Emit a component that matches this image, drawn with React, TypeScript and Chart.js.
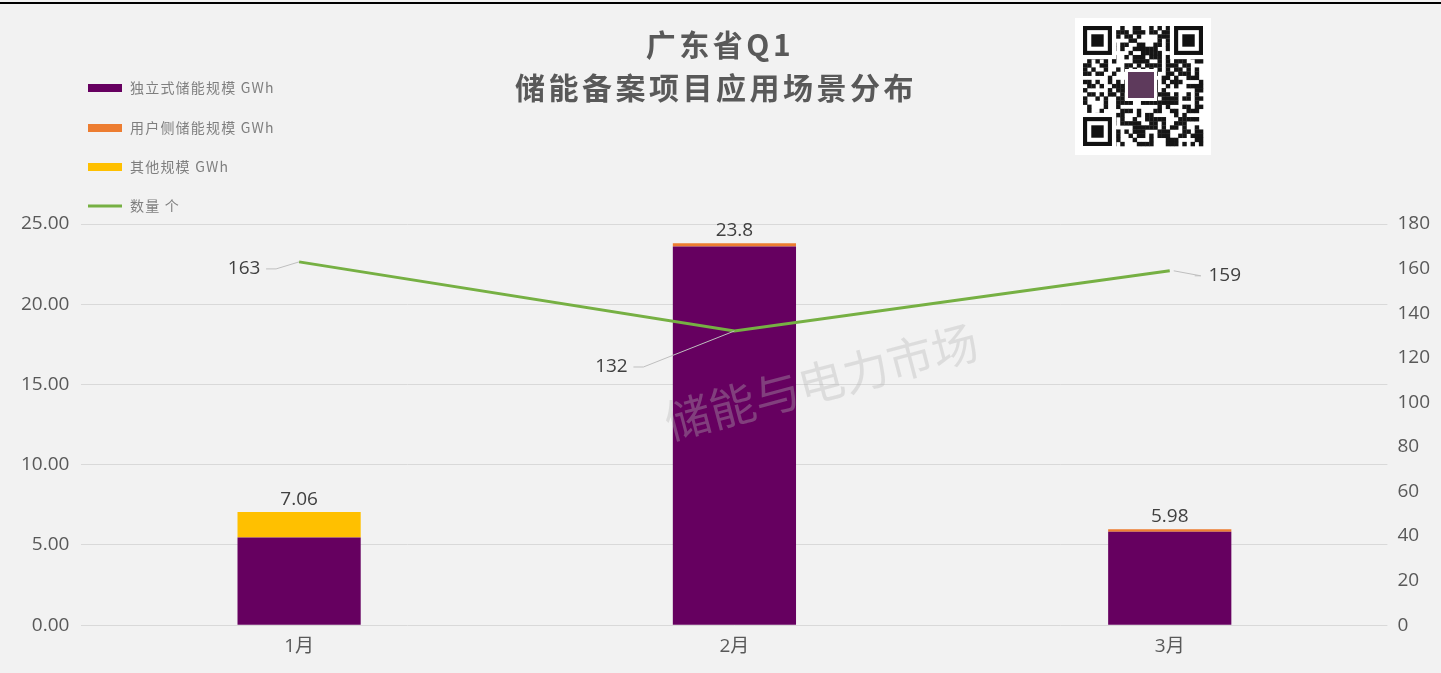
import React, { useEffect, useRef } from "react";
import { Chart, registerables } from "chart.js";

Chart.register(...registerables);

const categories = ["1月", "2月", "3月"];
const independentGWh = [5.46, 23.6, 5.83];
const userSideGWh = [0, 0.2, 0.15];
const otherGWh = [1.6, 0, 0];
const totalLabels = ["7.06", "23.8", "5.98"];
const projectCount = [163, 132, 159];
const seriesNames = ["独立式储能规模 GWh", "用户侧储能规模 GWh", "其他规模 GWh", "数量 个"];
const titleLines = ["广东省Q1", "储能备案项目应用场景分布"];
const watermarkText = "储能与电力市场";

const PURPLE = "#660060";
const ORANGE = "#ed7d31";
const YELLOW = "#ffc000";
const GREEN = "#76b043";
const TEXT = "#595959";
const FONT = "'Open Sans', 'Noto Sans CJK SC', sans-serif";
const CJK = "'Noto Sans CJK SC', 'Noto Sans', sans-serif";

function drawQrDecoration(ctx: CanvasRenderingContext2D) {
  const x0 = 1075, y0 = 18, size = 136;
  ctx.fillStyle = "#ffffff";
  ctx.fillRect(x0, y0, size, size + 1);
  const n = 29;
  const cell = 120 / n;
  const ox = x0 + 8, oy = y0 + 8;
  let s = 12345;
  ctx.fillStyle = "#151515";
  for (let r = 0; r < n; r++) {
    for (let c = 0; c < n; c++) {
      s = (s * 1103515245 + 12345) & 0x7fffffff;
      if ((s >> 16) % 2 === 0) ctx.fillRect(ox + c * cell, oy + r * cell, cell + 0.3, cell + 0.3);
    }
  }
  const finder = (x: number, y: number) => {
    const f = cell * 7;
    ctx.fillStyle = "#fff";
    ctx.fillRect(x - cell, y - cell, f + 2 * cell, f + 2 * cell);
    ctx.fillStyle = "#111";
    ctx.fillRect(x, y, f, f);
    ctx.fillStyle = "#fff";
    ctx.fillRect(x + cell, y + cell, f - 2 * cell, f - 2 * cell);
    ctx.fillStyle = "#111";
    ctx.fillRect(x + 2 * cell, y + 2 * cell, f - 4 * cell, f - 4 * cell);
  };
  finder(ox, oy);
  finder(ox + (n - 7) * cell, oy);
  finder(ox, oy + (n - 7) * cell);
  ctx.fillStyle = "#fff";
  ctx.fillRect(1125, 69, 32, 32);
  ctx.fillStyle = "#5e3a5c";
  ctx.fillRect(1128, 72, 26, 26);
}

const decorPlugin = {
  id: "decor",
  beforeDraw(chart: any) {
    const ctx = chart.ctx;
    ctx.save();
    ctx.fillStyle = "#f2f2f2";
    ctx.fillRect(0, 0, chart.width, chart.height);
    ctx.fillStyle = "#000";
    ctx.fillRect(0, 2, chart.width, 2);
    drawQrDecoration(ctx);
    // title
    ctx.fillStyle = TEXT;
    ctx.textAlign = "center";
    ctx.textBaseline = "middle";
    ctx.font = `bold 30px ${CJK}`;
    (ctx as any).letterSpacing = "3.5px";
    ctx.fillText(titleLines[0], 720, 45);
    ctx.fillText(titleLines[1], 716, 88);
    // legend
    ctx.textAlign = "left";
    ctx.font = `14px ${CJK}`;
    (ctx as any).letterSpacing = "1.2px";
    const cols = [PURPLE, ORANGE, YELLOW];
    const ys = [88, 128, 167, 206];
    for (let i = 0; i < 4; i++) {
      if (i < 3) {
        ctx.fillStyle = cols[i];
        ctx.fillRect(88, ys[i] - 4, 34, 8);
      } else {
        ctx.strokeStyle = GREEN;
        ctx.lineWidth = 3;
        ctx.beginPath();
        ctx.moveTo(88, ys[i]);
        ctx.lineTo(122, ys[i]);
        ctx.stroke();
      }
      ctx.fillStyle = "#7f7f7f";
      ctx.fillText(seriesNames[i], 130, ys[i]);
    }
    (ctx as any).letterSpacing = "0px";
    ctx.restore();
  },
  afterDraw(chart: any) {
    const ctx = chart.ctx;
    ctx.save();
    // bar totals
    const lastMeta = chart.getDatasetMeta(2);
    const yScale = chart.scales.y;
    ctx.fillStyle = "#404040";
    ctx.font = `19px ${FONT}`;
    ctx.textAlign = "center";
    ctx.textBaseline = "bottom";
    for (let i = 0; i < categories.length; i++) {
      const x = lastMeta.data[i].x;
      const total = independentGWh[i] + userSideGWh[i] + otherGWh[i];
      const y = yScale.getPixelForValue(total);
      ctx.fillText(totalLabels[i], x, y - 3);
    }
    // line labels with leader lines
    const lineMeta = chart.getDatasetMeta(3);
    const offsets = [
      { dx: -55, dy: 7, side: "left" },
      { dx: -123, dy: 36, side: "left" },
      { dx: 55, dy: 5, side: "right" },
    ];
    ctx.textBaseline = "middle";
    for (let i = 0; i < categories.length; i++) {
      const p = lineMeta.data[i];
      const o = offsets[i];
      const tx = p.x + o.dx;
      const ty = p.y + o.dy;
      ctx.strokeStyle = "#bfbfbf";
      ctx.lineWidth = 1;
      ctx.beginPath();
      if (o.side === "left") {
        ctx.moveTo(tx + 22, ty);
        ctx.lineTo(tx + 32, ty);
        ctx.lineTo(p.x, p.y);
      } else {
        ctx.moveTo(p.x + 4, p.y);
        ctx.lineTo(tx - 24, ty);
        ctx.lineTo(tx - 30, ty);
      }
      ctx.stroke();
      ctx.fillStyle = "#404040";
      ctx.textAlign = "center";
      ctx.fillText(String(projectCount[i]), tx, ty);
    }
    // watermark
    ctx.translate(670, 440);
    ctx.rotate(-0.26);
    ctx.fillStyle = "rgba(180,180,180,0.35)";
    ctx.font = `46px ${CJK}`;
    ctx.textAlign = "left";
    ctx.textBaseline = "alphabetic";
    ctx.fillText(watermarkText, 0, 0);
    ctx.restore();
  },
};

export default function App() {
  const ref = useRef<HTMLCanvasElement | null>(null);
  useEffect(() => {
    document.body.style.margin = "0";
    const chart = new Chart(ref.current as HTMLCanvasElement, {
      type: "bar",
      data: {
        labels: categories,
        datasets: [
          { type: "bar", label: seriesNames[0], data: independentGWh, backgroundColor: PURPLE, yAxisID: "y", stack: "s", order: 2 },
          { type: "bar", label: seriesNames[1], data: userSideGWh, backgroundColor: ORANGE, yAxisID: "y", stack: "s", order: 2 },
          { type: "bar", label: seriesNames[2], data: otherGWh, backgroundColor: YELLOW, yAxisID: "y", stack: "s", order: 2 },
          {
            type: "line",
            label: seriesNames[3],
            data: projectCount,
            borderColor: GREEN,
            borderWidth: 3,
            pointRadius: 0,
            yAxisID: "y1",
            order: 1,
          } as any,
        ],
      },
      options: {
        responsive: false,
        animation: false,
        layout: { padding: { top: 224, left: 9, right: 1, bottom: 13 } },
        plugins: { legend: { display: false }, tooltip: { enabled: false } },
        datasets: { bar: { categoryPercentage: 1, barPercentage: 0.283 } },
        scales: {
          x: {
            stacked: true,
            grid: { display: false },
            border: { display: false },
            ticks: { color: TEXT, font: { size: 19, family: FONT }, padding: 2 },
          },
          y: {
            stacked: true,
            min: 0,
            max: 25,
            ticks: { stepSize: 5, color: TEXT, font: { size: 19, family: FONT }, padding: 12, callback: (v: any) => Number(v).toFixed(2) },
            grid: { color: "#d9d9d9", drawTicks: false },
            border: { display: false },
          },
          y1: {
            position: "right",
            min: 0,
            max: 180,
            ticks: { stepSize: 20, color: TEXT, font: { size: 19, family: FONT }, padding: 10 },
            grid: { display: false, drawTicks: false },
            border: { display: false },
          },
        },
      } as any,
      plugins: [decorPlugin],
    });
    return () => chart.destroy();
  }, []);
  return <canvas ref={ref} width={1441} height={673} style={{ display: "block" }} />;
}
